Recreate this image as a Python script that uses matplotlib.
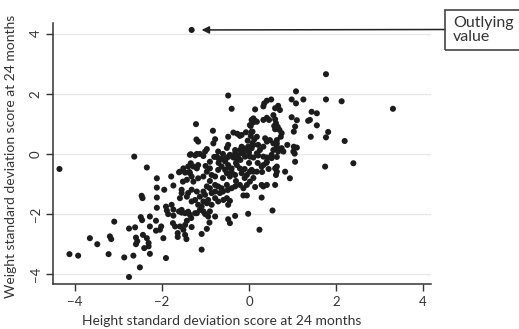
import matplotlib
matplotlib.use('Agg')
import matplotlib.pyplot as plt
from matplotlib.patches import Rectangle

plt.rcParams['font.family'] = ['Lato', 'DejaVu Sans']

# height / weight standard deviation scores at 24 months
height_sds = [
    -4.36, -2.64, -2.35, -2.12, -2.12, -2.12, -2.12, -1.95, -1.79, -1.74, -1.61, -2.47, -2.45,
    -3.10, -3.66, -3.49, -4.13, -3.93, -3.23, -3.20, -3.17, -2.87, -2.76, -2.62, -2.66, -2.76,
    -2.51, -2.60, -2.60, -2.57, -2.49, -2.46, -2.44, -2.35, -2.41, -2.31, -2.28, -2.28, -2.28,
    -2.14, -2.14, -2.02, -2.05, -1.97, -1.91, -2.31, -1.91, -1.89, -1.86, -1.78, -1.74, -1.74,
    -1.75, -1.70, -1.64, -1.64, -1.51, -1.47, -1.44, -1.32, -1.43, -1.55, -1.40, -1.33, -1.59,
    -1.55, -1.52, -1.47, -1.37, -1.34, -1.34, -1.20, -1.09, -1.09, -0.97, -0.91, -1.20, -1.13,
    -1.01, -0.90, -0.78, -0.48, -0.44, -0.02, 0.24, -1.61, -1.59, -1.47, -0.32, 0.54,
    # left part of the dense cloud
    -1.36, -1.24, -1.13, -1.05, -1.01, -0.97, -0.71, -0.74,
    -1.59, -1.51, -1.40, -1.20, -1.17, -1.36, -1.32, -1.43, -1.28, -1.17, -1.05, -0.97, -0.90,
    -0.86, -0.78, -0.71, -0.63, -0.55, -0.47, -0.71, -0.63, -0.52, -0.90,
    -0.97, -0.90, -0.78, -0.71, -0.63, -0.51, -0.49, -0.60, -0.67, -0.78, -0.86, -1.05, -1.01,
    -1.13, -1.20, -1.32, -1.40, -1.43, -1.55, -1.32, -1.24, -1.17, -1.09, -1.05, -0.97, -0.94,
    -0.86, -0.78, -0.71, -0.59, -0.51, -0.48, -1.55, -1.47, -1.36, -1.24, -1.05, -0.94,
    # middle band
    -0.48, -0.44, -0.36, -0.32, -0.32, -0.25, -0.28, -0.21, -0.17, -0.17, -0.13, -0.13, -0.09,
    -0.05, -0.02, 0.02, 0.06, 0.10, 0.10, 0.18, 0.21, 0.21, 0.25, 0.33, 0.33, 0.41, 0.52,
    0.56, 0.64, 0.75, 0.79, 0.64, 0.67,
    -0.48, -0.40, -0.28, -0.21, -0.51, -0.44, -0.32, -0.17, -0.05, 0.02, 0.06, 0.18, 0.29,
    0.41, 0.60, 0.64, -0.40, -0.32, -0.21, -0.13, -0.05, 0.02, 0.14, 0.33, 0.41, 0.60, -0.44,
    -0.13, -0.05, 0.29,
    1.06, 1.75, 2.40, 0.83, 0.94, 0.62, 0.29, 0.10, 0.33, 0.52, 0.64, -1.28,
    # extra points where the cloud is solid black
    -0.30, 0.00, -0.10, 0.30, -0.60, -0.90, -0.30, 0.10, -1.00, -0.80, -0.60, 0.40, 0.45,
    -0.20, -0.40, -0.70, -0.10, 0.20, -0.55, 0.00,
    # upper part
    -1.32, -0.48, -0.40, 0.14, -1.22, -0.83, -1.21, -1.17, -0.78, -0.82, -0.48, -0.36, -0.27,
    -0.21, -0.48, -0.51, 0.02, 0.10, 0.14,
    1.77, 1.08, 0.98, 1.08, 1.25, 1.77, 2.13, 3.31, 1.44, 1.56, 1.36, 1.40, 1.56, 0.98, 1.10,
    1.06, 1.03, 1.82, 1.77, 1.42, 2.20, 0.88, 1.03, 1.10, 1.02, 1.05,
    0.60, 0.67, 0.71, 0.51, 0.41, 0.35, 0.33, 0.56, 0.60, 0.46, 0.41, 0.33, 0.06, 0.18, 0.10,
    0.04, 0.08, 0.62, 0.58, 0.66, 0.60, 0.70, 0.75, 0.73, 0.64, 0.56, 0.64, 0.37, 0.41, 0.48,
    -0.17, -0.07, 0.04, -0.03, 0.08, 0.12, 0.18, 0.06,
]
weight_sds = [
    -0.50, -0.09, -0.45, -0.81, -1.12, -1.45, -1.79, -1.19, -0.75, -1.05, -0.61, -1.39, -1.47,
    -2.25, -2.80, -3.00, -3.33, -3.38, -3.33, -2.74, -2.83, -3.44, -2.48, -2.44, -3.38, -4.09,
    -3.77, -2.78, -3.00, -2.90, -2.10, -2.20, -2.69, -2.80, -3.13, -3.07, -3.32, -2.41, -2.08,
    -2.55, -2.22, -2.41, -2.52, -2.80, -3.46, -2.96, -1.75, -1.88, -2.00, -1.69, -1.85, -2.05,
    -2.30, -2.41, -2.63, -2.76, -2.52, -2.69, -2.83, -2.43, -2.22, -1.95, -1.92, -2.13, -1.47,
    -1.19, -0.92, -0.62, -0.60, -0.31, -0.01, 0.00, -3.18, -2.66, -2.49, -2.28, -1.97, -1.86,
    -2.00, -1.91, -2.08, -2.17, -2.30, -1.99, -2.52, -1.91, -2.41, -2.36, -2.06, -1.88,
    -0.03, -0.05, 0.00, -0.07, 0.08, 0.16, 0.08, -0.09,
    -0.59, -0.48, -0.42, -0.48, -0.37, -0.64, -0.75, -0.86, -0.92, -0.81, -0.75, -0.59, -0.48,
    -0.70, -0.75, -0.53, -0.42, -0.53, -0.45, -0.14, -0.17, -0.14, -0.26,
    -1.08, -1.14, -1.03, -1.08, -1.14, -1.03, -1.20, -1.25, -1.30, -1.25, -1.30, -1.25, -1.36,
    -1.42, -1.25, -1.19, -1.30, -1.42, -1.30, -1.58, -1.53, -1.69, -1.75, -1.58, -1.64, -1.53,
    -1.69, -1.47, -1.58, -1.53, -1.47, -1.69, -1.86, -1.97, -2.02, -1.97, -1.91, -2.08,
    -0.10, -0.03, -0.12, 0.02, 0.13, -0.05, -0.16, 0.13, 0.24, 0.06, 0.19, 0.00, -0.09,
    0.13, 0.24, -0.09, 0.19, 0.30, -0.12, 0.02, -0.05, 0.30, 0.13, -0.09, 0.24, -0.12, -0.03,
    0.13, -0.10, 0.19, 0.08, 0.24, 0.08,
    -0.37, -0.48, -0.37, -0.48, -0.64, -0.75, -0.70, -0.64, -0.70, -0.59, -0.53, -0.59, -0.42,
    -0.26, -0.48, -0.59, -1.14, -1.08, -1.03, -1.14, -1.03, -0.92, -1.10, -1.08, -1.03, -1.03, -1.56,
    -1.38, -1.38, -1.45,
    -0.26, -0.42, -0.31, -0.59, -0.81, -0.70, -1.03, -0.59, -0.37, -0.14, -0.42, -0.42,
    -0.30, -0.30, -0.50, -0.60, -0.80, -0.90, -0.90, -0.80, -0.40, -0.10, 0.00, -0.30, -0.50,
    -0.20, -0.60, -0.30, -0.80, -0.30, -0.25, 0.05,
    4.12, 1.94, 1.50, 1.48, 0.99, 0.77, 0.48, 0.41, 0.49, 0.35, 0.57, 0.71, 0.67,
    0.60, 0.30, 0.20, 0.96, 1.18, 1.10,
    2.65, 2.08, 1.81, 1.68, 1.81, 1.81, 1.75, 1.50, 1.40, 1.35, 1.10, 1.13, 0.95, 1.22, 1.12,
    0.91, 0.74, 0.73, 0.55, 0.57, 0.43, 0.30, 0.24, 0.21, 0.08, 0.01,
    1.52, 1.60, 1.46, 1.81, 1.77, 1.68, 1.58, 1.29, 1.15, 1.13, 1.20, 1.13, 1.13, 1.07, 1.05,
    0.93, 0.74, 1.02, 0.93, 0.90, 0.82, 0.80, 0.69, 0.57, 0.46, 0.35, 0.35, 0.52, 0.41, 0.46,
    0.63, 0.72, 0.60, 0.44, 0.35, 0.48, 0.57, 0.74,
]

outlier = (-1.32, 4.12)
ticks = [-4, -2, 0, 2, 4]

fig = plt.figure(figsize=(5.19, 3.29), dpi=100)
ax = fig.add_axes([0.102, 0.137, 0.728, 0.793])

ax.scatter(height_sds, weight_sds, s=19, color='#1c1c1c', edgecolors='none', zorder=3)

ax.set_xlim(-4.51, 4.18)
ax.set_ylim(-4.32, 4.35)
ax.set_xticks(ticks)
ax.set_yticks(ticks)
ax.set_xticklabels(['\u2212' + str(-t) if t < 0 else str(t) for t in ticks])
ax.set_yticklabels(['\u2212' + str(-t) if t < 0 else str(t) for t in ticks],
                   rotation=90, va='center')
ax.tick_params(axis='both', direction='out', length=5, width=1, color='#333333',
               labelsize=9.5, labelcolor='#333333', pad=3)
ax.tick_params(axis='x', pad=4)

ax.grid(axis='y', color='#e6e6e6', linewidth=0.9, zorder=0)
for side in ['top', 'right']:
    ax.spines[side].set_visible(False)
for side in ['left', 'bottom']:
    ax.spines[side].set_color('#333333')
    ax.spines[side].set_linewidth(1.1)

ax.set_xlabel('Height standard deviation score at 24 months', fontsize=10, color='#333333')
ax.set_ylabel('Weight standard deviation score at 24 months', fontsize=10, color='#333333')
ax.xaxis.set_label_coords(0.446, -0.118)
ax.yaxis.set_label_coords(-0.094, 0.49)

# pointer to the outlying value
ax.annotate('', xy=(outlier[0] + 0.23, outlier[1]), xytext=(445, 299.5),
            textcoords='figure pixels', annotation_clip=False,
            arrowprops=dict(arrowstyle='-|>', color='#222222', lw=1.1,
                            shrinkA=0, shrinkB=0, mutation_scale=11))
fig.patches.append(Rectangle((445 / 519, 279 / 329), 100 / 519, 40 / 329,
                             transform=fig.transFigure, fill=False,
                             edgecolor='#444444', linewidth=1.2))
fig.text(453 / 519, 299 / 329, 'Outlying\nvalue', fontsize=11.5, color='#333333',
         ha='left', va='center', linespacing=1.0)

fig.savefig('out.png', dpi=100)
